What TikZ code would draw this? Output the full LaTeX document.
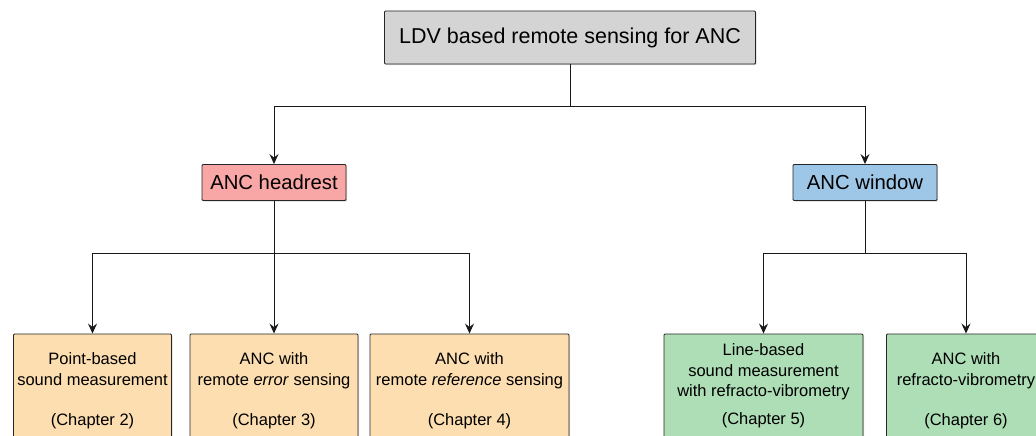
\documentclass[tikz,border=0pt]{standalone}
\usepackage{fontspec}
\setmainfont{Liberation Sans}
\usetikzlibrary{arrows.meta,shadows}

\definecolor{boxgray}{RGB}{212,212,212}
\definecolor{headpink}{RGB}{248,166,166}
\definecolor{winblue}{RGB}{158,198,230}
\definecolor{peach}{RGB}{253,222,176}
\definecolor{mint}{RGB}{174,222,182}

\begin{document}
\begin{tikzpicture}[x=1pt, y=-1pt,
  box/.style={draw=black!85, line width=0.9pt, rounded corners=1pt, inner sep=0pt, align=center,
    drop shadow={opacity=0.3, shadow xshift=1.2pt, shadow yshift=-1.2pt}},
  topbox/.style={box, fill=boxgray, minimum width=371pt, minimum height=53pt, font=\fontsize{21.5}{25}\selectfont},
  midbox/.style={box, minimum width=144pt, minimum height=36pt, font=\fontsize{20.3}{24}\selectfont},
  chapbox/.style={box, minimum height=114pt, font=\fontsize{16.5}{20.3}\selectfont},
  link/.style={line width=1pt, draw=black!90},
  arr/.style={link, -{Stealth[length=10pt, width=9pt, inset=3.5pt]}}]
  \useasboundingbox (0,0) rectangle (1036,436);
  \clip (0,0) rectangle (1036,436);

  % top level
  \node[topbox] (ldv) at (570,37.5) {LDV based remote sensing for ANC};

  % applications
  \node[midbox, fill=headpink] (head) at (274,182.5) {ANC headrest};
  \node[midbox, fill=winblue] (win) at (865,182.5) {ANC window};

  % chapters
  \node[chapbox, fill=peach, minimum width=158pt] (ch2) at (92.5,391)
    {Point-based\\sound measurement\\[20.3pt](Chapter 2)};
  \node[chapbox, fill=peach, minimum width=168pt] (ch3) at (274,391)
    {ANC with\\remote \emph{error} sensing\\[20.3pt](Chapter 3)};
  \node[chapbox, fill=peach, minimum width=199pt] (ch4) at (469.5,391)
    {ANC with\\remote \emph{reference} sensing\\[20.3pt](Chapter 4)};
  \node[chapbox, fill=mint, minimum width=199pt, minimum height=104pt] (ch5) at (763.5,386)
    {Line-based\\sound measurement\\with refracto-vibrometry\\[8pt](Chapter 5)};
  \node[chapbox, fill=mint, minimum width=159pt] (ch6) at (966,391)
    {ANC with\\refracto-vibrometry\\[20.3pt](Chapter 6)};

  % connectors
  \coordinate (topfork) at (570,106);
  \coordinate (headfork) at (274,253);
  \coordinate (winfork) at (865,253);
  \draw[link] (ldv) -- (topfork);
  \draw[arr] (topfork) -| (head);
  \draw[arr] (topfork) -| (win);
  \draw[link] (head) -- (headfork);
  \draw[arr] (headfork) -| (ch2);
  \draw[arr] (headfork) -- (ch3);
  \draw[arr] (headfork) -| (ch4);
  \draw[link] (win) -- (winfork);
  \draw[arr] (winfork) -| (ch5);
  \draw[arr] (winfork) -| (ch6);
\end{tikzpicture}
\end{document}
